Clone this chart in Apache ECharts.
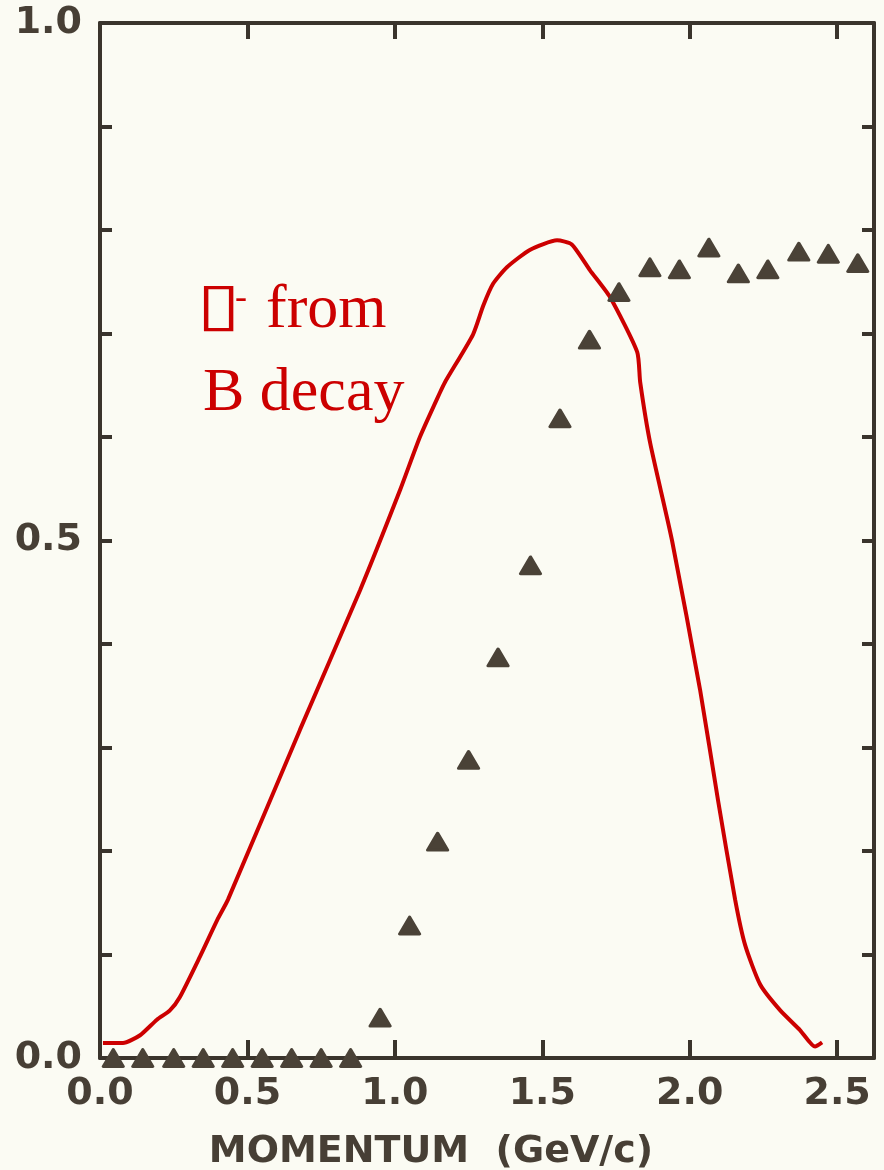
<!DOCTYPE html>
<html>
<head>
<meta charset="utf-8">
<script src="https://cdn.jsdelivr.net/npm/echarts@6/dist/echarts.min.js"></script>
<style>
  html, body { margin: 0; padding: 0; background: #fbfbf3; }
  #main { width: 884px; height: 1170px; }
</style>
</head>
<body>
<div id="main"></div>
<script>
// 数据点 (三角形): 动量 / 效率
var momentum = [0.045, 0.145, 0.25, 0.35, 0.45, 0.55, 0.65, 0.75, 0.85, 0.95,
  1.05, 1.145, 1.25, 1.35, 1.46, 1.56, 1.66, 1.76, 1.865, 1.965,
  2.065, 2.165, 2.265, 2.37, 2.47, 2.57];
var efficiency = [0.0, 0.0, 0.0, 0.0, 0.0, 0.0, 0.0, 0.0, 0.0, 0.039,
  0.128, 0.209, 0.288, 0.387, 0.476, 0.618, 0.694, 0.740, 0.764, 0.762,
  0.783, 0.758, 0.762, 0.779, 0.777, 0.768];

// 红线: B 衰变的 mu- 谱 (手绘曲线)
var curveX = [0.010, 0.078, 0.136, 0.193, 0.237, 0.271, 0.339, 0.397, 0.434, 0.678,
  0.882, 1.018, 1.085, 1.153, 1.170, 1.265, 1.300, 1.333, 1.380, 1.459,
  1.550, 1.600, 1.662, 1.730, 1.822, 1.832, 1.866, 1.940, 2.035, 2.096,
  2.154, 2.188, 2.239, 2.307, 2.374, 2.425, 2.449];
var curveY = [0.0145, 0.0145, 0.022, 0.037, 0.046, 0.059, 0.098, 0.133, 0.153, 0.317,
  0.452, 0.549, 0.600, 0.643, 0.653, 0.699, 0.727, 0.748, 0.764, 0.781,
  0.790, 0.786, 0.761, 0.735, 0.682, 0.653, 0.594, 0.500, 0.356, 0.249,
  0.153, 0.109, 0.071, 0.046, 0.027, 0.011, 0.015];

var xLabels = ['0.0', '0.5', '1.0', '1.5', '2.0', '2.5'];
var yLabels = ['0.0', '0.5', '1.0'];

var ink = '#3a342c';
var text = '#473f35';
var red = '#cc0000';

var myChart = echarts.init(document.getElementById('main'));

var points = momentum.map(function (x, i) { return [x, efficiency[i]]; });
var curve = curveX.map(function (x, i) { return [x, curveY[i]]; });

function fmt(list) {
  return function (v) {
    var s = v.toFixed(1);
    return list.indexOf(s) >= 0 && Math.abs(v * 10 - Math.round(v * 10)) < 1e-6 ? s : '';
  };
}

function frame(pos, extra) {
  var ax = {
    type: 'value', position: pos,
    splitLine: { show: false },
    axisLine: { onZero: false, lineStyle: { color: ink, width: 4 } },
    axisTick: { inside: true, length: 12, lineStyle: { color: ink, width: 4 } },
    axisLabel: { show: false }
  };
  for (var k in extra) ax[k] = extra[k];
  return ax;
}

var option = {
  backgroundColor: '#fbfbf3',
  animation: false,
  grid: { left: 100, right: 10, top: 23, bottom: 112, outerBoundsMode: 'none', containLabel: false },
  xAxis: [
    frame('bottom', {
      min: 0, max: 2.625, interval: 0.5,
      axisTick: { inside: true, length: 18, lineStyle: { color: ink, width: 4 } },
      axisLabel: { showMaxLabel: false, margin: 17, color: text, fontSize: 38, fontWeight: 'bold',
        fontFamily: 'DejaVu Sans', formatter: fmt(xLabels) },
      name: 'MOMENTUM  (GeV/c)', nameLocation: 'middle', nameGap: 75,
      nameTextStyle: { color: text, fontSize: 38, fontWeight: 'bold', fontFamily: 'DejaVu Sans', padding: [0, 112, 0, 0] }
    }),
    frame('top', {
      min: 0, max: 2.625, interval: 0.5,
      axisTick: { inside: true, length: 16, lineStyle: { color: ink, width: 4 } }
    })
  ],
  yAxis: [
    frame('left', {
      min: 0, max: 1, interval: 0.1,
      axisLabel: { margin: 18, color: text, fontSize: 38, fontWeight: 'bold', fontFamily: 'DejaVu Sans',
        formatter: fmt(yLabels) }
    }),
    frame('right', { min: 0, max: 1, interval: 0.1 })
  ],
  series: [
    {
      name: 'B decay', type: 'line', data: curve, smooth: 0.2,
      showSymbol: false, lineStyle: { color: red, width: 4 }, z: 3
    },
    {
      name: 'data', type: 'scatter', data: points,
      symbol: 'triangle', symbolSize: [20, 17],
      itemStyle: { color: '#4a4237', borderColor: '#4a4237', borderWidth: 3, borderJoin: 'round', opacity: 1 },
      z: 4
    }
  ],
  graphic: [
    { type: 'text', x: 197, y: 309, scaleX: 1.35, originX: 0,
      style: { text: '\u25AF', fill: red, font: '59px "DejaVu Sans"', verticalAlign: 'middle' } },
    { type: 'text', x: 235, y: 299, style: { text: '-', fill: red, font: '36px "Liberation Serif"', verticalAlign: 'middle' } },
    { type: 'text', x: 266, y: 311, style: { text: 'from', fill: red, font: '62px "Liberation Serif"', verticalAlign: 'middle' } },
    { type: 'text', x: 203, y: 394, style: { text: 'B decay', fill: red, font: '62px "Liberation Serif"', verticalAlign: 'middle' } }
  ]
};

myChart.setOption(option);
</script>
</body>
</html>
